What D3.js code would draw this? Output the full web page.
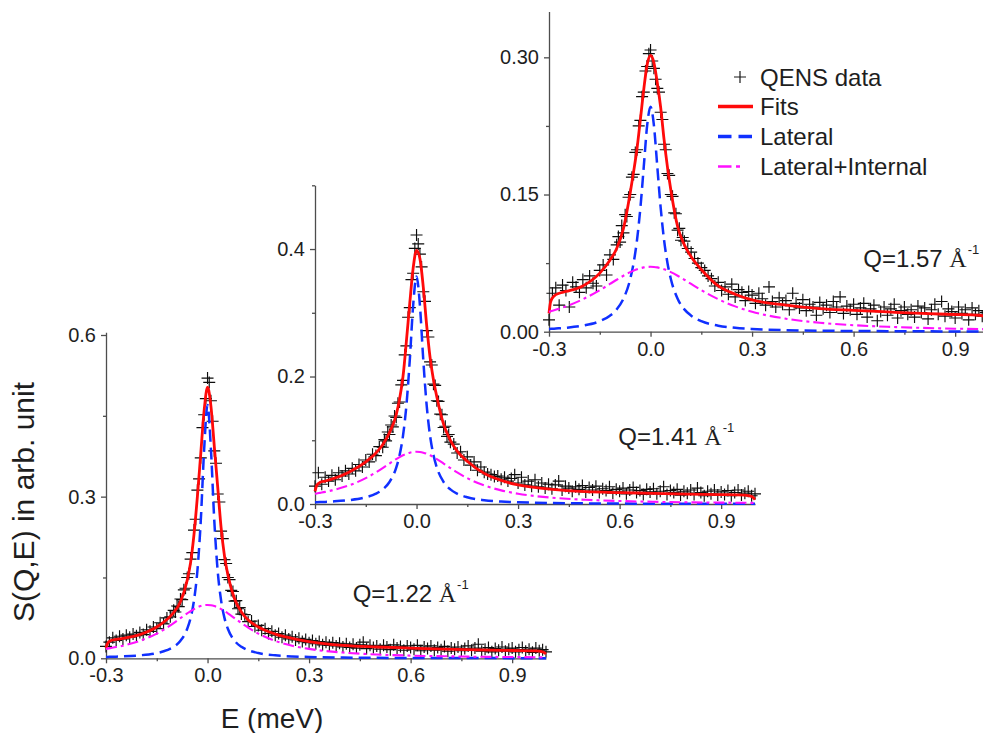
<!DOCTYPE html>
<html><head><meta charset="utf-8">
<script src="https://cdn.jsdelivr.net/npm/d3@7"></script>
<style>
html,body{margin:0;padding:0;background:#fff;overflow:hidden}
svg{display:block}
text{font-family:"Liberation Sans",Arial,sans-serif}
</style></head><body>
<svg id="chart" width="983" height="733"></svg>
<script>
// ---------- data ----------
const energyGrid = [
 -0.30,-0.29,-0.28,-0.27,-0.26,-0.25,-0.24,-0.23,-0.22,-0.21,
 -0.20,-0.19,-0.18,-0.17,-0.16,-0.15,-0.14,-0.13,-0.12,-0.11,
 -0.10,
 -0.095,-0.090,-0.085,-0.080,-0.075,-0.070,-0.065,-0.060,-0.055,-0.050,
 -0.045,-0.040,-0.035,-0.030,-0.025,-0.020,-0.015,-0.010,-0.005,0.000,
 0.005,0.010,0.015,0.020,0.025,0.030,0.035,0.040,0.045,0.050,
 0.055,0.060,0.065,0.070,0.075,0.080,0.085,0.090,0.095,
 0.10,0.11,0.12,0.13,0.14,0.15,0.16,0.17,0.18,0.19,
 0.20,0.21,0.22,0.23,0.24,0.25,0.26,0.27,0.28,0.29,
 0.30,0.31,0.32,0.33,0.34,0.35,0.36,0.37,0.38,0.39,
 0.40,0.41,0.42,0.43,0.44,0.45,0.46,0.47,0.48,0.49,
 0.50,0.51,0.52,0.53,0.54,0.55,0.56,0.57,0.58,0.59,
 0.60,0.61,0.62,0.63,0.64,0.65,0.66,0.67,0.68,0.69,
 0.70,0.71,0.72,0.73,0.74,0.75,0.76,0.77,0.78,0.79,
 0.80,0.81,0.82,0.83,0.84,0.85,0.86,0.87,0.88,0.89,
 0.90,0.91,0.92,0.93,0.94,0.95,0.96,0.97,0.98,0.99,
 1.00
];
const qens122 = [
 0.022,0.030,0.038,0.033,0.041,0.036,0.043,0.039,0.045,0.042,
 0.048,0.044,0.053,0.050,0.058,0.055,0.066,0.064,0.075,0.077,
 0.089,
 0.086,0.097,0.096,0.110,0.109,0.127,0.130,0.150,0.157,0.184,
 0.196,0.238,0.258,0.312,0.333,0.372,0.428,0.452,0.482,0.520,
 0.512,0.478,0.440,0.385,0.362,0.305,0.290,0.236,0.222,0.183,
 0.176,0.150,0.146,0.126,0.124,0.106,0.107,0.092,0.094,
 0.082,0.081,0.068,0.069,0.059,0.061,0.052,0.055,0.046,0.050,
 0.043,0.046,0.039,0.043,0.036,0.040,0.034,0.037,0.031,0.035,
 0.029,0.033,0.027,0.031,0.025,0.030,0.024,0.029,0.023,0.028,
 0.021,0.027,0.020,0.026,0.019,0.025,0.030,0.018,0.024,0.020,
 0.023,0.017,0.024,0.021,0.016,0.025,0.019,0.022,0.015,0.023,
 0.020,0.017,0.024,0.014,0.021,0.018,0.023,0.015,0.020,0.016,
 0.022,0.013,0.019,0.017,0.021,0.014,0.018,0.023,0.015,0.019,
 0.026,0.013,0.017,0.020,0.012,0.018,0.015,0.021,0.013,0.017,
 0.019,0.012,0.016,0.020,0.013,0.017,0.011,0.019,0.014,0.016,
 0.012
];
const qens141 = [
 0.028,0.049,0.031,0.042,0.036,0.045,0.038,0.049,0.044,0.052,
 0.047,0.056,0.052,0.062,0.058,0.069,0.066,0.078,0.076,0.090,
 0.089,
 0.101,0.099,0.113,0.109,0.124,0.121,0.138,0.136,0.158,0.160,
 0.187,0.194,0.234,0.248,0.293,0.308,0.352,0.362,0.401,0.422,
 0.408,0.392,0.372,0.333,0.318,0.272,0.262,0.223,0.218,0.188,
 0.186,0.162,0.161,0.141,0.140,0.120,0.122,0.106,0.109,
 0.097,0.094,0.080,0.082,0.069,0.074,0.061,0.066,0.053,0.058,
 0.050,0.047,0.046,0.043,0.044,0.039,0.042,0.036,0.040,0.046,
 0.033,0.042,0.030,0.036,0.028,0.038,0.027,0.033,0.025,0.031,
 0.024,0.030,0.036,0.022,0.028,0.025,0.020,0.027,0.023,0.029,
 0.019,0.026,0.022,0.028,0.018,0.024,0.021,0.027,0.017,0.023,
 0.020,0.025,0.016,0.022,0.026,0.018,0.021,0.015,0.023,0.019,
 0.024,0.016,0.020,0.027,0.015,0.021,0.018,0.023,0.014,0.020,
 0.017,0.022,0.015,0.025,0.018,0.013,0.020,0.016,0.022,0.014,
 0.019,0.015,0.021,0.013,0.018,0.022,0.014,0.017,0.020,0.013,
 0.016
];
const qens157 = [
 0.013,0.042,0.048,0.029,0.051,0.045,0.027,0.054,0.049,0.043,
 0.057,0.048,0.061,0.053,0.050,0.067,0.073,0.062,0.084,0.079,
 0.095,
 0.104,0.098,0.116,0.108,0.128,0.126,0.147,0.150,0.169,0.172,
 0.196,0.199,0.225,0.231,0.257,0.262,0.285,0.290,0.304,0.308,
 0.296,0.288,0.276,0.266,0.262,0.240,0.232,0.205,0.199,0.173,
 0.171,0.150,0.148,0.130,0.129,0.111,0.113,0.100,0.103,
 0.099,0.091,0.087,0.080,0.075,0.070,0.067,0.061,0.058,0.050,
 0.054,0.045,0.049,0.041,0.052,0.038,0.046,0.043,0.034,0.044,
 0.040,0.031,0.042,0.036,0.029,0.049,0.033,0.027,0.037,0.030,
 0.034,0.024,0.042,0.031,0.026,0.035,0.023,0.030,0.027,0.018,
 0.032,0.025,0.029,0.021,0.033,0.027,0.038,0.020,0.028,0.024,
 0.030,0.019,0.026,0.031,0.016,0.025,0.029,0.012,0.022,0.027,
 0.018,0.025,0.030,0.015,0.023,0.027,0.019,0.024,0.016,0.028,
 0.021,0.026,0.014,0.024,0.030,0.019,0.033,0.017,0.025,0.022,
 0.015,0.027,0.020,0.024,0.013,0.026,0.019,0.023,0.017,0.021,
 0.020
];

const fitEnergy = [-0.300,-0.295,-0.285,-0.270,-0.250,-0.200,-0.150,-0.120,-0.100,-0.080,
 -0.060,-0.050,-0.040,-0.030,-0.020,-0.010,0.000,0.010,0.020,0.030,0.040,0.050,0.060,
 0.080,0.100,0.120,0.150,0.200,0.250,0.300,0.400,0.500,0.600,0.700,0.800,0.900,0.970,0.990,1.000];

const fit122 = [0.019,0.028,0.033,0.035,0.037,0.044,0.058,0.072,0.085,0.105,0.145,0.178,0.230,0.300,0.380,0.460,0.503,
 0.468,0.393,0.318,0.243,0.190,0.155,0.110,0.086,0.071,0.058,0.045,0.037,0.031,
 0.024,0.021,0.019,0.017,0.0155,0.0145,0.0138,0.012,0.008];
const lateral122 = [0.0025,0.0026,0.0027,0.0030,0.0035,0.0055,0.0097,0.0150,0.0213,0.0325,0.0548,0.0750,0.1076,0.1620,0.2550,0.3880,0.4700,
 0.3880,0.2550,0.1620,0.1076,0.0750,0.0548,0.0325,0.0213,0.0150,0.0097,0.0055,0.0035,0.0025,
 0.0014,0.0009,0.0006,0.0005,0.0004,0.0003,0.0002,0.0002,0.0002];
const latInt122 = [0.0175,0.0180,0.0191,0.0208,0.0234,0.0323,0.0458,0.0568,0.0653,0.0744,0.0835,0.0877,0.0914,0.0946,0.0970,0.0985,0.0990,
 0.0985,0.0970,0.0946,0.0914,0.0877,0.0835,0.0744,0.0653,0.0568,0.0458,0.0323,0.0234,0.0175,
 0.0107,0.0071,0.0050,0.0038,0.0029,0.0023,0.0020,0.0019,0.0019];

const fit141 = [0.020,0.029,0.034,0.036,0.039,0.050,0.066,0.080,0.093,0.112,0.140,0.165,0.200,0.255,0.315,0.370,0.398,
 0.385,0.340,0.280,0.230,0.195,0.168,0.125,0.100,0.083,0.067,0.048,0.037,0.030,
 0.023,0.0195,0.018,0.0167,0.0156,0.0148,0.014,0.012,0.007];
const lateral141 = [0.0027,0.0028,0.0030,0.0033,0.0039,0.0060,0.0105,0.0162,0.0229,0.0345,0.0571,0.0768,0.1070,0.1543,0.2254,0.3115,0.3570,
 0.3115,0.2254,0.1543,0.1070,0.0768,0.0571,0.0345,0.0229,0.0162,0.0105,0.0060,0.0039,0.0027,
 0.0015,0.0010,0.0007,0.0005,0.0004,0.0003,0.0003,0.0002,0.0002];
const latInt141 = [0.0161,0.0165,0.0175,0.0190,0.0214,0.0291,0.0405,0.0496,0.0564,0.0635,0.0705,0.0736,0.0764,0.0788,0.0805,0.0816,0.0820,
 0.0816,0.0805,0.0788,0.0764,0.0736,0.0705,0.0635,0.0564,0.0496,0.0405,0.0291,0.0214,0.0161,
 0.0099,0.0066,0.0047,0.0035,0.0027,0.0022,0.0019,0.0018,0.0018];

const fit157 = [0.020,0.033,0.039,0.042,0.044,0.050,0.064,0.078,0.091,0.113,0.152,0.175,0.200,0.232,0.265,0.292,0.302,
 0.294,0.272,0.245,0.210,0.180,0.155,0.115,0.095,0.082,0.068,0.050,0.041,0.0347,
 0.029,0.0252,0.0233,0.0216,0.020,0.0188,0.018,0.016,0.012];
const lateral157 = [0.0030,0.0031,0.0033,0.0037,0.0043,0.0066,0.0115,0.0175,0.0244,0.0361,0.0576,0.0752,0.1002,0.1353,0.1804,0.2255,0.2460,
 0.2255,0.1804,0.1353,0.1002,0.0752,0.0576,0.0361,0.0244,0.0175,0.0115,0.0066,0.0043,0.0030,
 0.0017,0.0011,0.0008,0.0006,0.0004,0.0003,0.0003,0.0003,0.0003];
const latInt157 = [0.0218,0.0224,0.0234,0.0252,0.0277,0.0355,0.0454,0.0522,0.0568,0.0612,0.0651,0.0668,0.0683,0.0694,0.0703,0.0708,0.0710,
 0.0708,0.0703,0.0694,0.0683,0.0668,0.0651,0.0612,0.0568,0.0522,0.0454,0.0355,0.0277,0.0218,
 0.0142,0.0098,0.0071,0.0054,0.0042,0.0033,0.0029,0.0028,0.0027];

const xTicks = [-0.3, 0.0, 0.3, 0.6, 0.9];
const xTickLabels = ["-0.3", "0.0", "0.3", "0.6", "0.9"];
const xMinorTicks = [-0.15, 0.15, 0.45, 0.75];
const yTicks122 = [0, 0.3, 0.6], yTickLabels122 = ["0.0", "0.3", "0.6"], yMinor122 = [0.15, 0.45];
const yTicks141 = [0, 0.2, 0.4], yTickLabels141 = ["0.0", "0.2", "0.4"], yMinor141 = [0.1, 0.3, 0.5];
const yTicks157 = [0, 0.15, 0.30], yTickLabels157 = ["0.00", "0.15", "0.30"], yMinor157 = [0.075, 0.225];
const qLabels = ["Q=1.22", "Q=1.41", "Q=1.57"];
const legendLabels = ["QENS data", "Fits", "Lateral", "Lateral+Internal"];
const xTitle = "E (meV)";
const yTitle = "S(Q,E) in arb. unit";

// ---------- drawing ----------
const svg = d3.select("#chart");
const FONT = "Liberation Sans, Arial, sans-serif";
const SERIF = "Liberation Serif, Times New Roman, serif";
const AXIS = "#4d4d4d", TXT = "#1e1e1e";
const RED = "#ff0a0a", BLUE = "#1030ff", MAG = "#ff10ff";
const crossPath = "M-6,0H6M0,-6V6";

const panels = [
  {data: qens122, fit: fit122, lat: lateral122, li: latInt122, yMax: 0.605,
   yT: yTicks122, yL: yTickLabels122, yM: yMinor122, q: qLabels[0],
   box: {l: 106, r: 546, t: 332.3, b: 658.3}, qPos: [352.7, 601.7]},
  {data: qens141, fit: fit141, lat: lateral141, li: latInt141, yMax: 0.5,
   yT: yTicks141, yL: yTickLabels141, yM: yMinor141, q: qLabels[1],
   box: {l: 315, r: 755, t: 185.3, b: 504}, qPos: [618.3, 445]},
  {data: qens157, fit: fit157, lat: lateral157, li: latInt157, yMax: 0.35,
   yT: yTicks157, yL: yTickLabels157, yM: yMinor157, q: qLabels[2],
   box: {l: 549, r: 989, t: 11.6, b: 331.7}, qPos: [863.3, 266.7]}
];

function styleAxis(sel) {
  sel.attr("font-size", 20).attr("font-family", FONT);
  sel.selectAll("path,line").attr("stroke", AXIS).attr("stroke-width", 1.3);
  sel.selectAll("text").attr("fill", TXT);
}

panels.forEach(p => {
  const x = d3.scaleLinear().domain([-0.3, 1.0]).range([p.box.l, p.box.r]);
  const y = d3.scaleLinear().domain([0, p.yMax]).range([p.box.b, p.box.t]);
  const g = svg.append("g");

  // axes
  const xa = g.append("g").attr("transform", `translate(0,${p.box.b})`)
    .call(d3.axisBottom(x).tickValues(xTicks).tickFormat((d, i) => xTickLabels[i])
      .tickSize(5).tickSizeOuter(0).tickPadding(5));
  styleAxis(xa);
  const xm = g.append("g").attr("transform", `translate(0,${p.box.b})`)
    .call(d3.axisBottom(x).tickValues(xMinorTicks).tickFormat("").tickSize(3).tickSizeOuter(0));
  xm.select(".domain").remove(); styleAxis(xm);

  const ya = g.append("g").attr("transform", `translate(${p.box.l},0)`)
    .call(d3.axisLeft(y).tickValues(p.yT).tickFormat((d, i) => p.yL[i])
      .tickSize(5).tickSizeOuter(0).tickPadding(5));
  styleAxis(ya);
  const ym = g.append("g").attr("transform", `translate(${p.box.l},0)`)
    .call(d3.axisLeft(y).tickValues(p.yM).tickFormat("").tickSize(3).tickSizeOuter(0));
  ym.select(".domain").remove(); styleAxis(ym);

  // data crosses
  const n = Math.min(energyGrid.length, p.data.length);
  g.append("g").selectAll("path").data(d3.range(n)).join("path")
    .attr("d", crossPath)
    .attr("transform", i => `translate(${x(energyGrid[i])},${y(p.data[i])})`)
    .attr("fill", "none").attr("stroke", "#0d0d0d").attr("stroke-width", 1.15);

  const line = d3.line().x((d, i) => x(fitEnergy[i])).y(d => y(d)).curve(d3.curveMonotoneX);
  g.append("path").attr("d", line(p.fit)).attr("fill", "none")
    .attr("stroke", RED).attr("stroke-width", 2.8);
  g.append("path").attr("d", line(p.lat)).attr("fill", "none")
    .attr("stroke", BLUE).attr("stroke-width", 2.5).attr("stroke-dasharray", "12,6");
  g.append("path").attr("d", line(p.li)).attr("fill", "none")
    .attr("stroke", MAG).attr("stroke-width", 2.1).attr("stroke-dasharray", "11,4,3,4");

  // Q label
  const qt = g.append("text").attr("x", p.qPos[0]).attr("y", p.qPos[1])
    .attr("font-size", 24).attr("font-family", FONT).attr("fill", TXT);
  qt.append("tspan").text(p.q + " ");
  qt.append("tspan").attr("font-family", SERIF).text("Å");
  qt.append("tspan").attr("font-size", 13).attr("dy", -13).attr("dx", 1).text("-1");
});

// axis titles
svg.append("text").attr("x", 272).attr("y", 728).attr("text-anchor", "middle")
  .attr("font-size", 28).attr("font-family", FONT).attr("fill", TXT).text(xTitle);
svg.append("text").attr("transform", "translate(34,502) rotate(-90)").attr("text-anchor", "middle")
  .attr("font-size", 30).attr("font-family", FONT).attr("fill", TXT).text(yTitle);

// legend
const lg = svg.append("g").attr("font-size", 24).attr("font-family", FONT).attr("fill", TXT);
const rowY = [77, 106.5, 136.5, 166.5];
lg.append("path").attr("d", crossPath).attr("transform", `translate(740,${rowY[0]})`)
  .attr("fill", "none").attr("stroke", "#1a1a1a").attr("stroke-width", 1.2);
lg.append("line").attr("x1", 718).attr("x2", 753).attr("y1", rowY[1]).attr("y2", rowY[1])
  .attr("stroke", RED).attr("stroke-width", 3.5);
lg.append("line").attr("x1", 718).attr("x2", 753).attr("y1", rowY[2]).attr("y2", rowY[2])
  .attr("stroke", BLUE).attr("stroke-width", 3.5).attr("stroke-dasharray", "13.5,7");
lg.append("line").attr("x1", 718).attr("x2", 753).attr("y1", rowY[3]).attr("y2", rowY[3])
  .attr("stroke", MAG).attr("stroke-width", 2.5).attr("stroke-dasharray", "13.5,4.5,4,20");
legendLabels.forEach((t, i) => {
  lg.append("text").attr("x", 760).attr("y", rowY[i] + 8.5).text(t);
});
</script>
</body></html>
